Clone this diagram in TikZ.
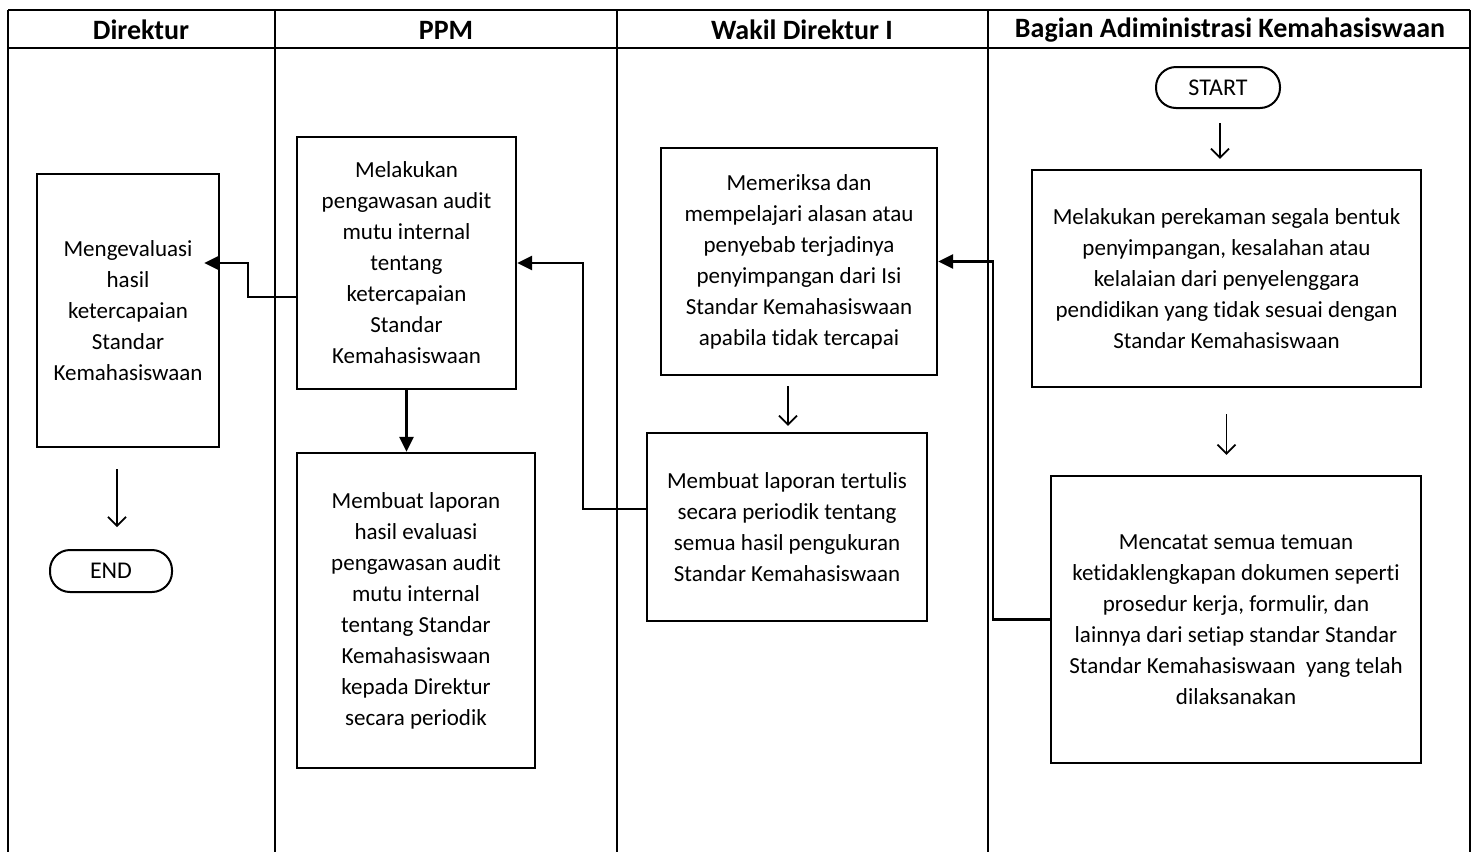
\documentclass[tikz,border=0pt]{standalone}
\usepackage{fontspec}
\setmainfont{Carlito}[Ligatures={NoCommon,NoRequired,NoContextual}]
\usetikzlibrary{arrows.meta}
\begin{document}
\begin{tikzpicture}[x=1pt,y=-1pt,
 box/.style={draw,line width=2.4pt,align=center,inner sep=0pt,font=\fontsize{23}{31}\selectfont},
 term/.style={draw,line width=2pt,rounded corners=20pt,inner sep=0pt,font=\fontsize{24}{28}\selectfont},
 head/.style={font=\fontsize{28}{30}\selectfont\bfseries},
 lane/.style={line width=2pt},
 conn/.style={line width=2.6pt,-{Triangle[length=15pt,width=14pt]}},
 flow/.style={line width=1.7pt,-{Straight Barb[length=9pt,width=18pt,line width=1.7pt]}}
]
\useasboundingbox (0,0) rectangle (1474,852);
% swimlane table
\draw[lane,line width=2.6pt] (8,10) -- (1470,10);
\draw[lane] (8,48) -- (1470,48);
\foreach \x in {8,275,617,988,1470} \draw[lane] (\x,10) -- (\x,852);
\node[head] (h1) at (141,30) {Direktur};
\node[head] (h2) at (446,30) {PPM};
\node[head] (h3) at (802,30) {Wakil Direktur I};
\node[head] (h4) at (1230,30) {Bagian Adiministrasi Kemahasiswaan};
% terminators
\node[term,minimum width=124,minimum height=41] (start) at (1218,87.5) {START};
\node[term,minimum width=122,minimum height=42] (endn) at (111,571) {END};
% boxes
\node[box,minimum width=182,minimum height=273] (dir) at (128,310.5)
 {Mengevaluasi\\hasil\\ketercapaian\\Standar\\Kemahasiswaan};
\node[box,minimum width=219,minimum height=252] (ppm1) at (406.5,263)
 {Melakukan\\pengawasan audit\\mutu internal\\tentang\\ketercapaian\\Standar\\Kemahasiswaan};
\node[box,minimum width=238,minimum height=315] (ppm2) at (416,610.5)
 {Membuat laporan\\hasil evaluasi\\pengawasan audit\\mutu internal\\tentang Standar\\Kemahasiswaan\\kepada Direktur\\secara periodik};
\node[box,minimum width=276,minimum height=227] (wak1) at (799,261.5)
 {Memeriksa dan\\mempelajari alasan atau\\penyebab terjadinya\\penyimpangan dari Isi\\Standar Kemahasiswaan\\apabila tidak tercapai};
\node[box,minimum width=280,minimum height=188] (wak2) at (787,527)
 {Membuat laporan tertulis\\secara periodik tentang\\semua hasil pengukuran\\Standar Kemahasiswaan};
\node[box,minimum width=389,minimum height=217] (bag1) at (1226.5,278.5)
 {Melakukan perekaman segala bentuk\\penyimpangan, kesalahan atau\\kelalaian dari penyelenggara\\pendidikan yang tidak sesuai dengan\\Standar Kemahasiswaan};
\node[box,minimum width=370,minimum height=287] (bag2) at (1236,619.5)
 {Mencatat semua temuan\\ketidaklengkapan dokumen seperti\\prosedur kerja, formulir, dan\\lainnya dari setiap standar Standar\\Standar Kemahasiswaan\ \ yang telah\\dilaksanakan};
% solid connectors
\draw[conn] ([yshift=-34pt]ppm1.west) -- ++(-48,0) |- ([xshift=-16pt,yshift=47.5pt]dir.east);
\draw[conn] ([yshift=18pt]wak2.west) -- ++(-63,0) |- (ppm1.east);
\draw[conn] (bag2.west) -- ++(-57,0) |- (wak1.east);
\draw[conn] (ppm1.south) -- (ppm1.south |- ppm2.north);
% open arrows
\draw[flow,shorten <=14pt,shorten >=10pt] ([xshift=2pt]start.south) -- ([xshift=2pt]start.south |- bag1.north);
\draw[flow,shorten <=26pt,shorten >=20pt] (bag1.south) -- (bag1.south |- bag2.north);
\draw[flow,shorten <=10pt,shorten >=6pt] ([xshift=-11pt]wak1.south) -- ([xshift=-11pt]wak1.south |- wak2.north);
\draw[flow,shorten <=21pt,shorten >=22pt] ([xshift=6pt]endn.north |- dir.south) -- ([xshift=6pt]endn.north);
\end{tikzpicture}
\end{document}
